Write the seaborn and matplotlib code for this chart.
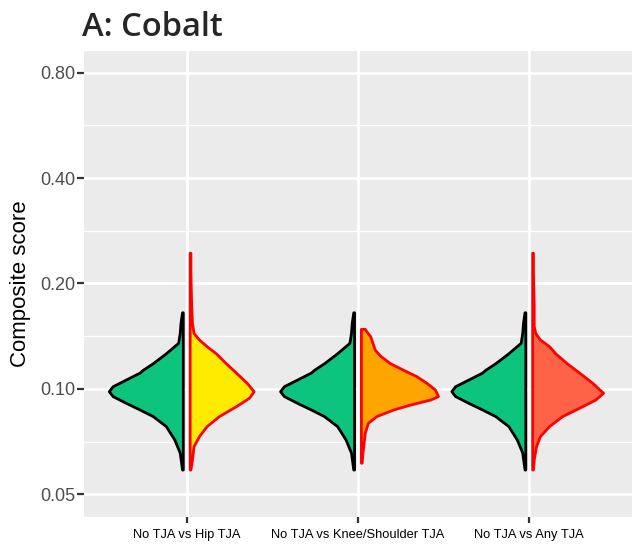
import matplotlib
matplotlib.use("Agg")
import matplotlib.pyplot as plt
import numpy as np
import seaborn as sns

comparisons = ["No TJA vs Hip TJA", "No TJA vs Knee/Shoulder TJA", "No TJA vs Any TJA"]
y_ticks = [0.05, 0.10, 0.20, 0.40, 0.80]
y_tick_labels = ["0.05", "0.10", "0.20", "0.40", "0.80"]

# density profiles (score, relative density), top to bottom
# reference group "No TJA" is the same left half in every comparison
no_tja_score = [0.165, 0.154, 0.144, 0.135, 0.126, 0.118, 0.113, 0.111, 0.106, 0.1015,
                0.0982, 0.0951, 0.0910, 0.0871, 0.0834, 0.0781, 0.0715, 0.0656, 0.0587]
no_tja_density = [0.01, 0.03, 0.04, 0.06, 0.22, 0.39, 0.52, 0.56, 0.74, 0.91,
                  0.96, 0.91, 0.74, 0.56, 0.39, 0.22, 0.11, 0.04, 0.01]

hip_score = [0.244, 0.214, 0.172, 0.154, 0.144, 0.138, 0.132, 0.126, 0.118, 0.111,
             0.1038, 0.0982, 0.0941, 0.0890, 0.0834, 0.0781, 0.0731, 0.0684, 0.0627, 0.0587]
hip_density = [0.01, 0.01, 0.02, 0.03, 0.05, 0.12, 0.22, 0.34, 0.47, 0.60,
               0.74, 0.83, 0.77, 0.60, 0.38, 0.22, 0.12, 0.05, 0.03, 0.01]

knee_score = [0.148, 0.1457, 0.141, 0.135, 0.129, 0.124, 0.118, 0.113, 0.1084, 0.1038,
              0.0993, 0.0951, 0.0930, 0.0900, 0.0871, 0.0834, 0.0798, 0.0747, 0.0684, 0.0656, 0.0614]
knee_density = [0.05, 0.07, 0.12, 0.15, 0.18, 0.25, 0.38, 0.55, 0.72, 0.85,
                0.96, 1.00, 0.90, 0.64, 0.42, 0.20, 0.09, 0.05, 0.03, 0.02, 0.01]

any_score = [0.244, 0.214, 0.172, 0.154, 0.151, 0.144, 0.138, 0.132, 0.126, 0.118, 0.111,
             0.1038, 0.0972, 0.0930, 0.0890, 0.0834, 0.0781, 0.0731, 0.0684, 0.0627, 0.0587]
any_density = [0.01, 0.01, 0.02, 0.02, 0.02, 0.04, 0.10, 0.22, 0.30, 0.45, 0.61,
               0.78, 0.92, 0.82, 0.65, 0.39, 0.22, 0.10, 0.05, 0.02, 0.01]

tja_profiles = [(hip_score, hip_density), (knee_score, knee_density), (any_score, any_density)]
tja_colors = ["#FFEB00", "#FFA500", "#FF6347"]
no_tja_color = "#0DC47F"

sns.set_theme(style="darkgrid", rc={
    "axes.facecolor": "#EBEBEB",
    "grid.color": "white",
    "grid.linewidth": 2.0,
    "xtick.bottom": True,
    "ytick.left": True,
})
plt.rcParams["font.family"] = ["Liberation Sans", "DejaVu Sans"]

fig = plt.figure(figsize=(6.42, 5.51), dpi=100)
ax = fig.add_axes([0.1308, 0.0626, 0.8536, 0.8457])

half = 0.45   # max half width
gap = 0.02    # small split between the halves


def half_violin(ax, pos, score, dens, side, face, edge):
    s = np.asarray(score)
    w = np.asarray(dens) * half
    c = pos + side * gap
    xs = np.r_[c, c + side * w, c]
    ys = np.r_[s[0], s, s[-1]]
    ax.fill(xs, ys, facecolor=face, edgecolor=edge, linewidth=2.0,
            joinstyle="round", zorder=3)


for i, (score, dens) in enumerate(tja_profiles):
    half_violin(ax, i, no_tja_score, no_tja_density, -1, no_tja_color, "black")
    half_violin(ax, i, score, dens, 1, tja_colors[i], "red")

ax.set_yscale("log")
ax.set_ylim(0.04325, 0.9245)
ax.set_xlim(-0.6, 2.6)
ax.set_yticks(y_ticks)
ax.set_yticklabels(y_tick_labels)
minor = [np.sqrt(a * b) for a, b in zip(y_ticks[:-1], y_ticks[1:])]
ax.set_yticks(minor, minor=True)
ax.set_yticklabels([], minor=True)
ax.set_xticks(range(len(comparisons)))
ax.set_xticklabels(comparisons)
ax.grid(True, which="major", color="white", linewidth=2.0)
ax.grid(True, which="minor", axis="y", color="white", linewidth=1.0)
ax.tick_params(axis="y", which="minor", length=0)
ax.tick_params(axis="y", which="major", length=5, width=1.6, color="#333333",
               labelsize=13, labelcolor="#4D4D4D", pad=1.5)
ax.tick_params(axis="x", which="major", length=4, width=1.6, color="#333333",
               labelsize=9.3, labelcolor="black", pad=5)
for sp in ax.spines.values():
    sp.set_visible(False)

ax.set_ylabel("Composite score", fontsize=16, color="black", labelpad=6)
fig.text(82 / 642, 1 - 36 / 551, "A: Cobalt", fontsize=23.5, fontweight="semibold",
         family=["Open Sans", "DejaVu Sans"], va="baseline", ha="left")

fig.savefig("out.png", dpi=100)
